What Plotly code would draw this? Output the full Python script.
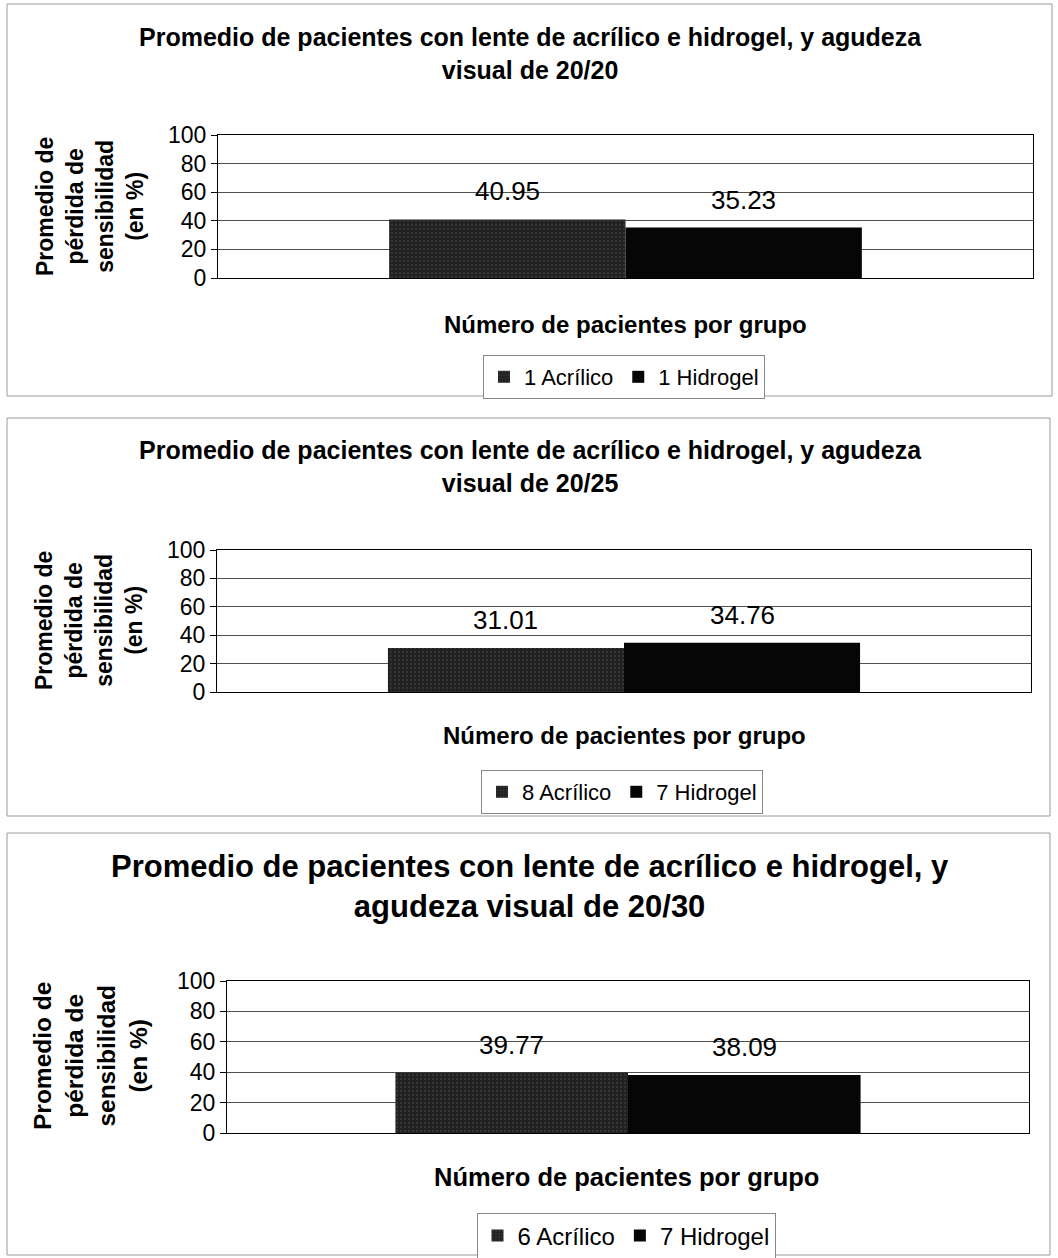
import plotly.graph_objects as go

# ---- data ----
titles = [
    "Promedio de pacientes con lente de acrílico e hidrogel, y agudeza<br>visual de 20/20",
    "Promedio de pacientes con lente de acrílico e hidrogel, y agudeza<br>visual de 20/25",
    "Promedio de pacientes con lente de acrílico e hidrogel, y<br>agudeza visual de 20/30",
]
acrilico_labels = ["1 Acrílico", "8 Acrílico", "6 Acrílico"]
hidrogel_labels = ["1 Hidrogel", "7 Hidrogel", "7 Hidrogel"]
acrilico_values = [40.95, 31.01, 39.77]
hidrogel_values = [35.23, 34.76, 38.09]
y_title = "Promedio de<br>pérdida de<br>sensibilidad<br>(en %)"
x_title = "Número de pacientes por grupo"
y_ticks = [0, 20, 40, 60, 80, 100]

W, H = 1058, 1258
FONT = "Liberation Sans, Arial, sans-serif"


def px(x):
    return x / W


def py(y):
    return 1 - y / H


# layout geometry (pixels) and text sizes per panel
panels = [
    dict(box=(7, 4, 1052, 396), plot=(218, 135, 1033, 278), title_y=53, title_size=25,
         ytitle=(90, 207), ytitle_size=23, xtitle=(625, 324), xtitle_size=24,
         legend=(624, 377), legend_size=22),
    dict(box=(7, 418, 1050, 816), plot=(217, 550, 1031, 692), title_y=466, title_size=25,
         ytitle=(89, 621), ytitle_size=23, xtitle=(624, 735), xtitle_size=24,
         legend=(622, 792), legend_size=22),
    dict(box=(7, 833, 1050, 1255), plot=(227, 981, 1029, 1133), title_y=886, title_size=31,
         ytitle=(90, 1056), ytitle_size=24.5, xtitle=(626, 1177), xtitle_size=25.5,
         legend=(626, 1236), legend_size=24),
]

fig = go.Figure()
layout = dict(
    width=W, height=H, margin=dict(l=0, r=0, t=0, b=0, pad=0, autoexpand=False),
    paper_bgcolor="white", plot_bgcolor="white",
    barmode="group", bargap=0.42, bargroupgap=0,
    font=dict(family=FONT, color="black"),
    showlegend=True,
)
annotations = []
shapes = []
half = (1 - 0.42) / 4  # offset of bar centres within the group

for i, p in enumerate(panels):
    n = "" if i == 0 else str(i + 1)
    xa, ya, lg = "x" + n, "y" + n, "legend" + n
    fig.add_trace(go.Bar(
        x=[0], y=[acrilico_values[i]], name=acrilico_labels[i],
        xaxis=xa, yaxis=ya, legend=lg,
        marker=dict(color="#262626", line=dict(width=0),
                    pattern=dict(shape=".", fgcolor="#474747", bgcolor="#202020", size=4, solidity=0.3)),
    ))
    fig.add_trace(go.Bar(
        x=[0], y=[hidrogel_values[i]], name=hidrogel_labels[i],
        xaxis=xa, yaxis=ya, legend=lg,
        marker=dict(color="#060606", line=dict(width=0)),
    ))
    l, t, r, b = p["plot"]
    layout["xaxis" + n] = dict(
        domain=[px(l), px(r)], anchor=ya, range=[-0.5, 0.5],
        showticklabels=False, ticks="", showgrid=False, zeroline=False,
        showline=True, linecolor="black", linewidth=1, mirror=True, fixedrange=True,
    )
    layout["yaxis" + n] = dict(
        domain=[py(b), py(t)], anchor=xa, range=[0, 100],
        tickvals=y_ticks, ticks="outside", ticklen=6, tickcolor="black",
        tickfont=dict(size=23, family=FONT, color="black"),
        showgrid=True, gridcolor="#505050", gridwidth=1, zeroline=False,
        showline=True, linecolor="black", linewidth=1, mirror=True, fixedrange=True,
        automargin=False,
    )
    lx, ly = p["legend"]
    layout[lg] = dict(
        orientation="h", x=px(lx), y=py(ly), xanchor="center", yanchor="middle",
        bordercolor="#888888", borderwidth=1, bgcolor="white",
        font=dict(size=p["legend_size"], family=FONT, color="black"), itemwidth=30,
        tracegroupgap=0,
    )
    # panel border
    x0, y0, x1, y1 = p["box"]
    shapes.append(dict(type="rect", xref="paper", yref="paper",
                       x0=px(x0), y0=py(y1), x1=px(x1), y1=py(y0),
                       line=dict(color="#9a9a9a", width=1), layer="below"))
    # title
    annotations.append(dict(text="<b>" + titles[i] + "</b>", xref="paper", yref="paper",
                            x=px(530), y=py(p["title_y"]), xanchor="center", yanchor="middle",
                            showarrow=False, font=dict(size=p["title_size"], family=FONT)))
    # y title
    yx, yy = p["ytitle"]
    annotations.append(dict(text="<b>" + y_title + "</b>", xref="paper", yref="paper",
                            x=px(yx), y=py(yy), xanchor="center", yanchor="middle",
                            textangle=-90, showarrow=False,
                            font=dict(size=p["ytitle_size"], family=FONT)))
    # x title
    xx, xy = p["xtitle"]
    annotations.append(dict(text="<b>" + x_title + "</b>", xref="paper", yref="paper",
                            x=px(xx), y=py(xy), xanchor="center", yanchor="middle",
                            showarrow=False, font=dict(size=p["xtitle_size"], family=FONT)))
    # data labels
    for off, v in ((-half, acrilico_values[i]), (half, hidrogel_values[i])):
        annotations.append(dict(text=f"{v:.2f}", xref=xa, yref=ya, x=off, y=v,
                                xanchor="center", yanchor="bottom", yshift=11,
                                showarrow=False, font=dict(size=26, family=FONT)))

layout["annotations"] = annotations
layout["shapes"] = shapes
fig.update_layout(**layout)
fig.write_html("out.html")
